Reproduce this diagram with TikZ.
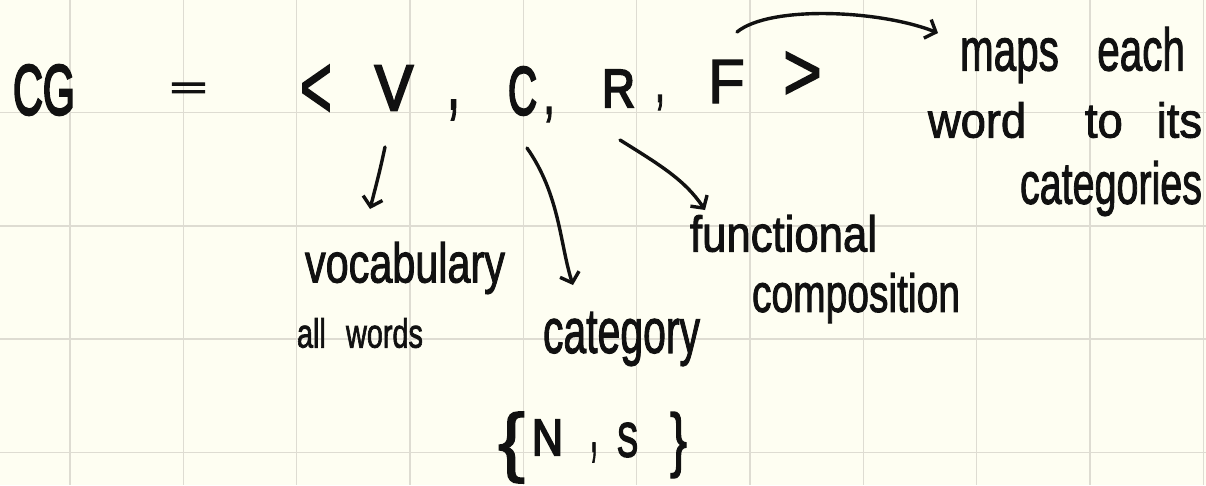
\documentclass[tikz,border=0pt]{standalone}
\usepackage{fontspec}
\setmainfont{Liberation Sans}
\newfontfamily\penfont{Liberation Sans}[FakeBold=2]
\newfontfamily\heavyfont{Liberation Sans}[FakeBold=4]
\usetikzlibrary{arrows.meta}
\definecolor{paper}{RGB}{254,254,242}
\definecolor{gridc}{RGB}{222,220,210}
\definecolor{ink}{RGB}{17,17,17}
\newcommand\hwfit[3]{\resizebox*{#1pt}{#2pt}{\penfont\fontsize{40}{40}\selectfont #3}}
\newcommand\hwheavy[3]{\resizebox*{#1pt}{#2pt}{\heavyfont\fontsize{40}{40}\selectfont #3}}
\tikzset{
  hw/.style={anchor=north west,inner sep=0pt,outer sep=0pt,text=ink},
  penarrow/.style={draw=ink,line width=3.4pt,line cap=round,line join=round,
    -{Straight Barb[length=9pt,width=20pt]}},
  gridline/.style={draw=gridc,line width=1.6pt}
}
\begin{document}
\begin{tikzpicture}[x=1pt,y=-1pt]
\fill[paper] (0,0) rectangle (1206,485);
\useasboundingbox (0,0) rectangle (1206,485);
\foreach \i in {0,...,10} \draw[gridline] ({70+113.33*\i},0) -- ({70+113.33*\i},485);
\foreach \j in {0,...,3} \draw[gridline] (0,{112.5+113.33*\j}) -- (1206,{112.5+113.33*\j});

% top formula
\node[hw] (cg) at (13,65) {\hwheavy{62}{50}{CG}};
\node[hw] (eq) at (170,83) {\hwheavy{37}{15}{=}};
\node[hw] (lt) at (300,65) {\hwfit{32}{53}{<}};
\node[hw] (V) at (375,66) {\hwheavy{38}{44}{V}};
\node[hw] (c1) at (447,100) {\hwfit{13}{20}{,}};
\node[hw] (C) at (508,67) {\hwheavy{29}{48}{C}};
\node[hw] (c2) at (543,107) {\hwfit{12}{15}{,}};
\node[hw] (R) at (602,70) {\hwheavy{33}{37}{R}};
\node[hw] (c3) at (655,95) {\hwfit{10}{15}{,}};
\node[hw] (F) at (708,60) {\hwfit{37}{43}{F}};
\node[hw] (gt) at (783,52) {\hwfit{39}{48}{>}};

% annotations
\node[hw] (voc) at (305,242) {\hwfit{200}{52}{vocabulary}};
\node[hw] (allw) at (297,318) {\hwfit{126}{30}{all\hspace{0.7em}words}};
\node[hw] (cat) at (543,312) {\hwfit{157}{54}{category}};
\node[hw] (fun) at (690,215) {\hwfit{187}{37}{functional}};
\node[hw] (comp) at (752,273) {\hwfit{208}{50}{composition}};
\node[hw] (maps) at (960,27) {\hwfit{225}{56}{maps\hspace{0.95em}each}};
\node[hw] (word) at (928,102) {\hwfit{274}{36}{word\hspace{1.3em}to\hspace{0.75em}its}};
\node[hw] (cats) at (1020,161) {\hwfit{182}{55}{categories}};

% set {N , S}
\node[hw] (lb) at (498,412) {\hwfit{27}{71}{\{}};
\node[hw] (N) at (532,420) {\hwheavy{31}{35}{N}};
\node[hw] (c4) at (590,443) {\hwfit{8}{19}{,}};
\node[hw] (S) at (617,423) {\hwheavy{21}{34}{S}};
\node[hw] (rb) at (670,412) {\hwfit{17}{66}{\}}};

% connector end points
\coordinate (vs) at (385,147);
\coordinate (ve) at (370,209);
\coordinate (cs) at (527,148);
\coordinate (ce) at (573,285);
\coordinate (rs) at (620,140);
\coordinate (re) at (705,210);
\coordinate (fs) at (737,32);
\coordinate (fe) at (938,33);

\draw[penarrow] (vs) .. controls (380,170) .. (ve);
\draw[penarrow] (cs) .. controls (560,195) and (560,245) .. (ce);
\draw[penarrow] (rs) .. controls (660,165) and (685,180) .. (re);
\draw[penarrow] (fs) .. controls (770,5) and (880,10) .. (fe);
\end{tikzpicture}
\end{document}
